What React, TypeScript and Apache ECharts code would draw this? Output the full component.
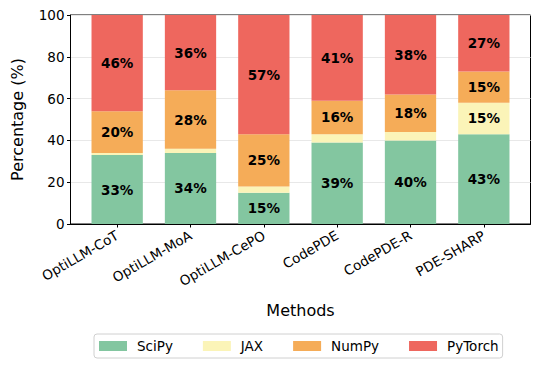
import React, { useEffect, useRef } from "react";
import * as echarts from "echarts";

const categories = ["OptiLLM-CoT", "OptiLLM-MoA", "OptiLLM-CePO", "CodePDE", "CodePDE-R", "PDE-SHARP"];
const seriesNames = ["SciPy", "JAX", "NumPy", "PyTorch"];
const scipy = [33, 34, 15, 39, 40, 43];
const jax = [1, 2, 3, 4, 4, 15];
const numpy = [20, 28, 25, 16, 18, 15];
const pytorch = [46, 36, 57, 41, 38, 27];

const colors = ["#83C6A0", "#FBF4B8", "#F5AC58", "#EE675E"];
const FONT = "DejaVu Sans";

export default function App() {
  const ref = useRef<HTMLDivElement>(null);
  useEffect(() => {
    document.body.style.margin = "0";
    if (!ref.current) return;
    const chart = echarts.init(ref.current, null, { renderer: "svg" });
    const values = [scipy, jax, numpy, pytorch];
    chart.setOption({
      animation: false,
      textStyle: { fontFamily: FONT },
      grid: [
        {
          left: 70.5,
          right: 9.5,
          top: 15,
          bottom: 147,
          show: true,
          borderColor: "#000",
          borderWidth: 1,
          backgroundColor: "transparent",
        },
        { left: 80.5, right: 19.5, top: 15, bottom: 147 },
      ],
      legend: {
        data: seriesNames,
        left: 94,
        top: 334,
        orient: "horizontal",
        itemWidth: 28,
        itemHeight: 10,
        itemGap: 30,
        borderColor: "#d0d0d0",
        borderWidth: 1,
        borderRadius: 3,
        padding: [5, 4, 5, 5],
        icon: "rect",
        textStyle: { fontFamily: FONT, fontSize: 13.5, color: "#000", padding: [0, 0, 0, 5] },
      },
      xAxis: [
        {
          type: "value",
          gridIndex: 0,
          min: 0,
          max: 1,
          splitLine: { show: false },
          axisLine: { show: true, onZero: false, lineStyle: { color: "#000" } },
          axisTick: { show: false },
          axisLabel: { show: false },
        },
        {
          type: "category",
          gridIndex: 1,
          data: categories,
          boundaryGap: true,
          name: "Methods",
          nameLocation: "middle",
          nameGap: 78,
          nameTextStyle: { fontFamily: FONT, fontSize: 16, color: "#000" },
          axisLine: { show: false },
          axisTick: { show: true, alignWithLabel: true, length: 3.5, lineStyle: { color: "#000" } },
          axisLabel: {
            rotate: 30,
            margin: 10,
            interval: 0,
            fontFamily: FONT,
            fontSize: 13.5,
            color: "#000",
            padding: [0, 0, 0, 0],
          },
        },
      ],
      yAxis: [
        {
          type: "value",
          gridIndex: 0,
          min: 0,
          max: 100,
          interval: 20,
          name: "Percentage (%)",
          nameLocation: "middle",
          nameGap: 45,
          nameTextStyle: { fontFamily: FONT, fontSize: 16, color: "#000" },
          axisLine: { show: true, onZero: false, lineStyle: { color: "#000" } },
          axisTick: { show: true, length: 3.5, lineStyle: { color: "#000" } },
          axisLabel: { fontFamily: FONT, fontSize: 13.5, color: "#000", margin: 6 },
          splitLine: { show: true, lineStyle: { color: "#e8e8e8", width: 1 } },
        },
        {
          type: "value",
          gridIndex: 1,
          min: 0,
          max: 100,
          interval: 20,
          show: false,
          splitLine: { show: false },
        },
      ],
      series: seriesNames.map((name, s) => ({
        name,
        type: "bar",
        stack: "total",
        xAxisIndex: 1,
        yAxisIndex: 1,
        barWidth: 51.3,
        itemStyle: { color: colors[s] },
        label: {
          show: true,
          position: "inside",
          fontFamily: FONT,
          fontSize: 13.5,
          fontWeight: "bold",
          color: "#000",
          formatter: (p: any) => (p.value >= 5 ? `${p.value}%` : ""),
        },
        data: values[s],
      })),
    });
    return () => chart.dispose();
  }, []);
  return <div ref={ref} style={{ width: 540, height: 371 }} />;
}
